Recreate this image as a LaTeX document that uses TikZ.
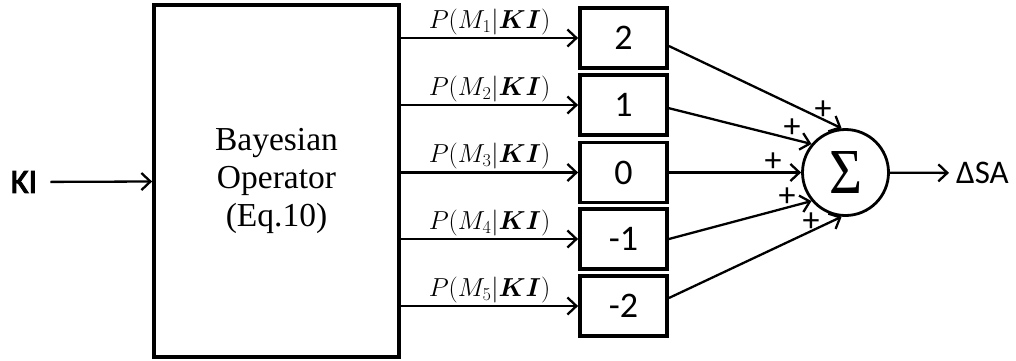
\RequirePackage{fix-cm}
\documentclass[tikz,border=0pt]{standalone}
\usepackage{bm}
\usepackage{graphicx}
\usepackage{fontspec}
\setmainfont{Liberation Serif}
\newfontfamily\carl{Carlito}
\newfontfamily\carlheavy[FakeBold=3]{Carlito}
\usetikzlibrary{arrows.meta}

\begin{document}
\begin{tikzpicture}[x=1pt,y=-1pt,
  valbox/.style={draw,line width=3.8pt,minimum width=87pt,minimum height=60pt,inner sep=0pt,
    font=\carl\fontsize{36}{38}\selectfont},
  flow/.style={line width=2.3pt,-{Straight Barb[length=9pt,width=17pt]}},
  lbl/.style={above,inner sep=2pt,font=\fontsize{26}{30}\selectfont},
  sgn/.style={font=\carl\fontsize{34}{36}\selectfont,inner sep=0pt}]
\useasboundingbox (0,0) rectangle (1016,360);

% Bayesian operator block
\node[draw,line width=3.8pt,minimum width=245pt,minimum height=352pt,align=center,
      font=\fontsize{33.5}{38}\selectfont] (bay) at (276.5,181) {Bayesian\\Operator\\(Eq.10)};

% input
\node[font=\carlheavy\fontsize{34}{36}\selectfont,inner sep=0pt] (ki) at (24,182) {KI};
\draw[flow,shorten <=13pt] (ki) -- (bay);

% model value boxes with their probabilities
\foreach \i/\v/\y in {1/2/38, 2/1/105, 3/0/172.5, 4/-1/239, 5/-2/306}{
  \node[valbox] (b\i) at (623.5,\y) {\v};
  \draw[flow] (bay.east |- b\i) -- (b\i) node[lbl,midway] {$P(M_{\i}|\bm{KI})$};
}

% summing junction
\node[draw,circle,line width=2.8pt,minimum size=86pt,inner sep=0pt] (sum) at (845.5,172.5)
  {\resizebox*{33pt}{42pt}{\fontsize{60}{60}\selectfont Σ}};

\draw[flow] (b1.-10) -- (sum.95);
\draw[flow] (b2.-4) -- (sum.140);
\draw[flow] (b3.east) -- (sum.west);
\draw[flow] (b4.east) -- (sum.220);
\draw[flow] (b5.10) -- (sum.265);

\node[sgn] (p1) at (823,110) {+};
\node[sgn] (p2) at (792,128) {+};
\node[sgn] (p3) at (773,162) {+};
\node[sgn] (p4) at (787,197) {+};
\node[sgn] (p5) at (811,222) {+};

% output
\node[font=\carl\fontsize{33}{36}\selectfont,anchor=west,inner sep=0pt] (out) at (956,173) {ΔSA};
\draw[flow,shorten >=7pt] (sum) -- (out);
\end{tikzpicture}
\end{document}
